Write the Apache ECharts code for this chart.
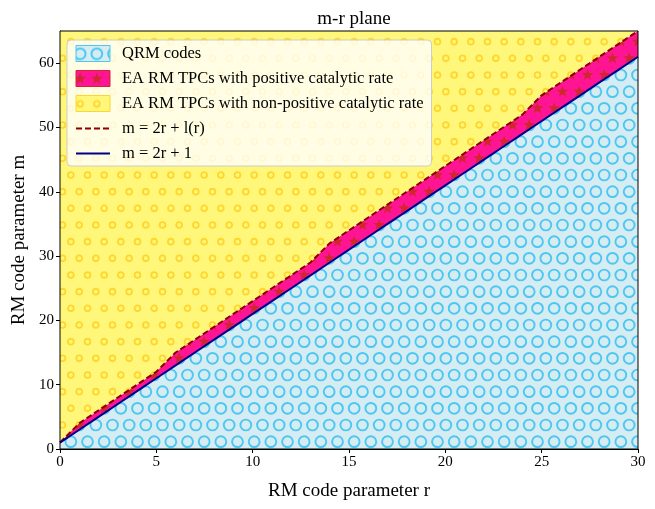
<!DOCTYPE html>
<html>
<head>
<meta charset="utf-8">
<title>m-r plane</title>
<script src="https://cdn.jsdelivr.net/npm/echarts@6/dist/echarts.min.js"></script>
<style>
    html, body { margin: 0; padding: 0; background: #fff; }
    #chart { width: 655px; height: 509px; }
</style>
</head>
<body>
<div id="chart"></div>
<script>
'use strict';

// r values and the two boundaries m(r)
var rValues = [0, 1, 2, 3, 4, 5, 6, 7, 8, 9, 10, 11, 12, 13, 14, 15,
    16, 17, 18, 19, 20, 21, 22, 23, 24, 25, 26, 27, 28, 29, 30];
// m = 2r + 1
var lowerM = [1, 3, 5, 7, 9, 11, 13, 15, 17, 19, 21, 23, 25, 27, 29, 31,
    33, 35, 37, 39, 41, 43, 45, 47, 49, 51, 53, 55, 57, 59, 61];
// m = 2r + l(r)
var upperM = [1, 4, 6, 8, 10, 12, 15, 17, 19, 21, 23, 25, 27, 29, 32, 34,
    36, 38, 40, 42, 44, 46, 48, 50, 52, 55, 57, 59, 61, 63, 65];

var xTicks = [0, 5, 10, 15, 20, 25, 30];
var yTicks = [0, 10, 20, 30, 40, 50, 60];

var FONT = '"Liberation Serif", "Times New Roman", serif';

// hatch-like tiles (100px tile, 6 rows of 16.67px, odd rows shifted)
function makeTile(bg, draw) {
    var c = document.createElement('canvas');
    c.width = 100;
    c.height = 100;
    var ctx = c.getContext('2d');
    ctx.fillStyle = bg;
    ctx.fillRect(0, 0, 100, 100);
    var step = 100 / 6;
    for (var row = -1; row <= 6; row++) {
        for (var col = -1; col <= 6; col++) {
            var cx = col * step + (row % 2 ? step / 2 : 0) + step / 4;
            var cy = row * step + step / 2;
            draw(ctx, cx, cy);
        }
    }
    return {image: c, repeat: 'repeat'};
}

function ring(color, r, w) {
    return function (ctx, x, y) {
        ctx.strokeStyle = color;
        ctx.lineWidth = w;
        ctx.beginPath();
        ctx.arc(x, y, r, 0, Math.PI * 2);
        ctx.stroke();
    };
}

function star(color, r) {
    return function (ctx, x, y) {
        ctx.fillStyle = color;
        ctx.beginPath();
        for (var i = 0; i < 10; i++) {
            var rad = i % 2 ? r * 0.42 : r;
            var a = -Math.PI / 2 + i * Math.PI / 5;
            var px = x + rad * Math.cos(a), py = y + rad * Math.sin(a);
            if (i === 0) ctx.moveTo(px, py); else ctx.lineTo(px, py);
        }
        ctx.closePath();
        ctx.fill();
    };
}

var bluePat = makeTile('#d5ecf3', ring('#4cc7f2', 5.4, 1.9));
var pinkPat = makeTile('#ff1493', star('#d0262e', 6));
var yellowPat = makeTile('#fff77a', ring('#ffd62e', 2.9, 1.8));

function pairs(ys) {
    return rValues.map(function (r, i) { return [r, ys[i]]; });
}

var myChart = echarts.init(document.getElementById('chart'));

var option = {
    animation: false,
    title: {
        text: 'm-r plane',
        left: 349,
        textAlign: 'center',
        top: 5,
        textStyle: {fontFamily: FONT, fontSize: 19, fontWeight: 'normal', color: '#000'}
    },
    grid: {
        left: 60,
        right: 17,
        top: 31,
        bottom: 60,
        show: true,
        z: 10,
        borderColor: '#000',
        borderWidth: 1,
        backgroundColor: 'transparent'
    },
    legend: {
        orient: 'vertical',
        left: 67,
        top: 40,
        z: 20,
        padding: [5, 8, 4, 8],
        itemGap: 8,
        itemWidth: 34,
        itemHeight: 16,
        backgroundColor: 'rgba(255,255,255,0.8)',
        borderColor: '#cccccc',
        borderWidth: 1,
        borderRadius: 4,
        textStyle: {fontFamily: FONT, fontSize: 16.5, color: '#000', padding: [0, 0, 0, 7]},
        data: [
            {name: 'QRM codes', icon: 'rect',
                itemStyle: {color: bluePat, borderColor: '#4cc7f2', borderWidth: 1}},
            {name: 'EA RM TPCs with positive catalytic rate', icon: 'rect',
                itemStyle: {color: pinkPat, borderColor: '#d0262e', borderWidth: 1}},
            {name: 'EA RM TPCs with non-positive catalytic rate', icon: 'rect',
                itemStyle: {color: yellowPat, borderColor: '#ffd62e', borderWidth: 1}},
            {name: 'm = 2r + l(r)', itemStyle: {opacity: 0}},
            {name: 'm = 2r + 1', itemStyle: {opacity: 0}}
        ]
    },
    xAxis: {
        type: 'value',
        min: 0,
        max: 30,
        interval: 5,
        name: 'RM code parameter r',
        nameLocation: 'middle',
        nameGap: 33,
        nameTextStyle: {fontFamily: FONT, fontSize: 19, color: '#000'},
        axisLine: {show: true, lineStyle: {color: '#000', width: 1}},
        axisTick: {show: true, length: 4, lineStyle: {color: '#000'}, customValues: xTicks},
        axisLabel: {fontFamily: FONT, fontSize: 15, color: '#000', margin: 6, customValues: xTicks},
        splitLine: {show: false}
    },
    yAxis: {
        type: 'value',
        min: 0,
        max: 65,
        interval: 10,
        name: 'RM code parameter m',
        nameLocation: 'middle',
        nameGap: 30,
        nameTextStyle: {fontFamily: FONT, fontSize: 19, color: '#000'},
        axisLine: {show: true, lineStyle: {color: '#000', width: 1}},
        axisTick: {show: true, length: 4, lineStyle: {color: '#000'}, customValues: yTicks},
        axisLabel: {fontFamily: FONT, fontSize: 15, color: '#000', margin: 6, customValues: yTicks},
        splitLine: {show: false}
    },
    series: [
        {
            name: 'EA RM TPCs with non-positive catalytic rate',
            type: 'line',
            z: 2,
            data: pairs(upperM),
            symbol: 'none',
            lineStyle: {width: 0},
            areaStyle: {color: yellowPat, origin: 'end', opacity: 1}
        },
        {
            name: 'EA RM TPCs with positive catalytic rate',
            type: 'line',
            z: 3,
            data: pairs(upperM),
            symbol: 'none',
            lineStyle: {width: 0},
            areaStyle: {color: pinkPat, origin: 'start', opacity: 1}
        },
        {
            name: 'QRM codes',
            type: 'line',
            z: 4,
            data: pairs(lowerM),
            symbol: 'none',
            lineStyle: {width: 0},
            areaStyle: {color: bluePat, origin: 'start', opacity: 1}
        },
        {
            name: 'm = 2r + l(r)',
            type: 'line',
            z: 5,
            data: pairs(upperM),
            symbol: 'none',
            itemStyle: {color: '#8b0000'},
            lineStyle: {color: '#8b0000', width: 2, type: [6, 3]}
        },
        {
            name: 'm = 2r + 1',
            type: 'line',
            z: 6,
            data: pairs(lowerM),
            symbol: 'none',
            itemStyle: {color: '#00008b'},
            lineStyle: {color: '#00008b', width: 2}
        }
    ]
};

myChart.setOption(option);
window.onresize = function () {
    myChart.resize();
};
</script>
</body>
</html>
